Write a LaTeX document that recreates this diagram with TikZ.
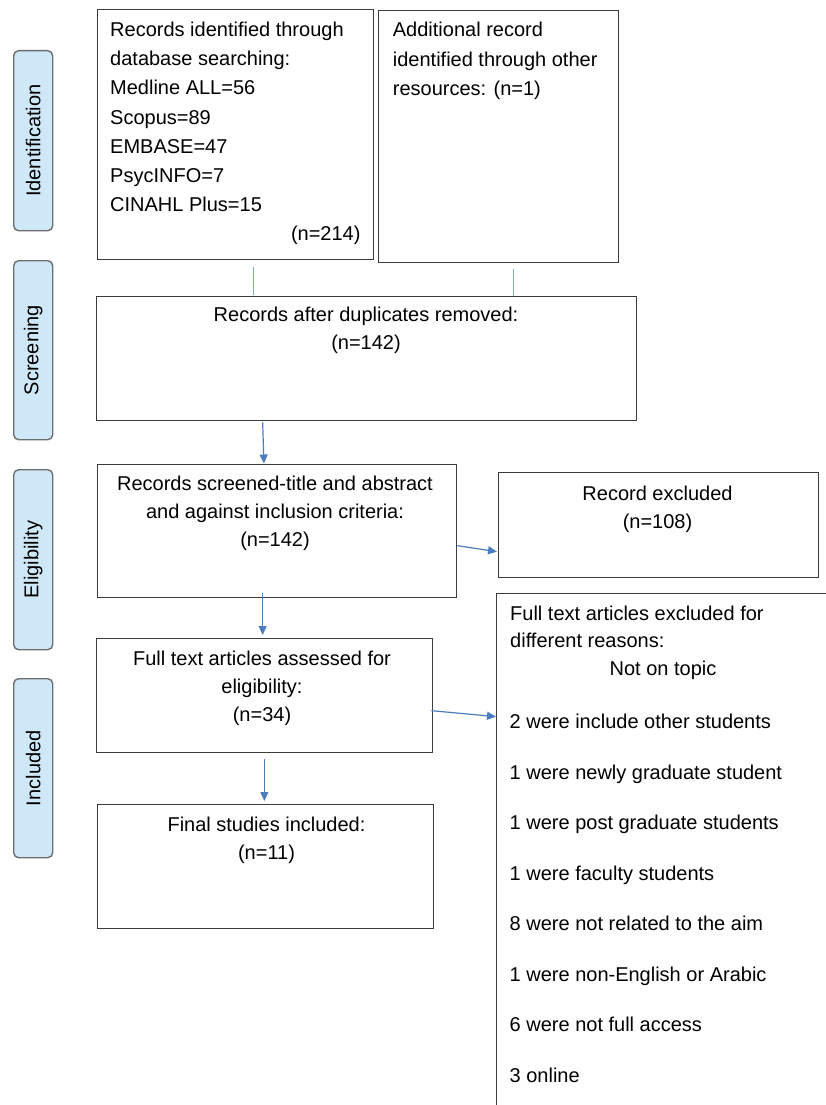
\documentclass[tikz,border=0pt]{standalone}
\usepackage{fontspec}
\setmainfont{Liberation Sans}
\usetikzlibrary{arrows.meta,calc}
\definecolor{boxline}{HTML}{3C3C3C}
\definecolor{sidefill}{HTML}{CFE8F8}
\definecolor{sideline}{HTML}{6E6E6E}
\definecolor{arrowblue}{HTML}{4A7EBF}
\definecolor{lineblue}{HTML}{7FA7DA}
\tikzset{
  box/.style={draw=boxline, line width=1.3pt, rectangle, inner sep=0pt, anchor=north west},
  sidebox/.style={draw=sideline, fill=sidefill, line width=1.4pt, rounded corners=5pt, inner sep=0pt, anchor=north west, minimum width=39pt},
  sidetxt/.style={rotate=90, inner sep=0pt, font=\fontsize{20}{24}\selectfont},
  txt/.style={inner sep=0pt, font=\fontsize{20}{29.3}\selectfont},
  ctxt/.style={inner sep=0pt, align=center, anchor=north, font=\fontsize{20}{28}\selectfont},
  arr/.style={draw=arrowblue, line width=1.2pt, -{Triangle[length=9pt,width=8pt]}},
  plain/.style={draw=lineblue, line width=1.2pt},
}
\begin{document}
\begin{tikzpicture}[x=1pt,y=-1pt]
\useasboundingbox (0,0) rectangle (826,1105);
\clip (0,0) rectangle (826,1105);
\fill[white] (0,0) rectangle (826,1105);

% side labels
\node[sidebox, minimum height=180pt] (sid) at (13,50) {};
\node[sidetxt] (sidt) at (sid.center) {Identification};
\node[sidebox, minimum height=179pt] (sscr) at (13,260) {};
\node[sidetxt] (sscrt) at (sscr.center) {Screening};
\node[sidebox, minimum height=180pt] (selg) at (13,469) {};
\node[sidetxt] (selgt) at (selg.center) {Eligibility};
\node[sidebox, minimum height=179pt] (sinc) at (13,678) {};
\node[sidetxt] (sinct) at (sinc.center) {Included};

% boxes
\node[box, minimum width=276pt, minimum height=250pt] (b1) at (97,9) {};
\node[box, minimum width=240pt, minimum height=252pt] (b2) at (378,10) {};
\node[box, minimum width=540pt, minimum height=124pt] (b3) at (96,296) {};
\node[box, minimum width=359pt, minimum height=133pt] (b4) at (97,464) {};
\node[box, minimum width=320pt, minimum height=105pt] (ex1) at (498,472) {};
\node[box, minimum width=336pt, minimum height=114pt] (b5) at (96,638) {};
\node[box, minimum width=336pt, minimum height=124pt] (b6) at (97,804) {};
\node[box, minimum width=360pt, minimum height=540pt] (ex2) at (496,593) {};

% texts
\node[txt, anchor=north west, align=left] (t1) at (110,21.5) {Records identified through\\database searching:\\Medline ALL=56\\Scopus=89\\EMBASE=47\\PsycINFO=7\\CINAHL Plus=15};
\node[txt, anchor=base east] (t1n) at (360.7,240.7) {(n=214)};
\node[txt, anchor=north west, align=left] (t2) at (392.7,22.2) {Additional record\\identified through other\\resources: (n=1)};
\node[ctxt] (t3) at (366,307.2) {Records after duplicates removed:\\(n=142)};
\node[ctxt] (t4) at (275,475.5) {Records screened-title and abstract\\and against inclusion criteria:\\(n=142)};
\node[ctxt] (tex1) at (657.5,485.5) {Record excluded\\(n=108)};
\node[ctxt] (t5) at (262,650.5) {Full text articles assessed for\\eligibility:\\(n=34)};
\node[ctxt] (t6) at (266.5,817.2) {Final studies included:\\(n=11)};
\node[txt, anchor=north west, align=left, font=\fontsize{20}{27}\selectfont] (tex2a) at (510,605.5) {Full text articles excluded for\\different reasons:};
\node[ctxt] (tex2b) at (663,660.5) {Not on topic};
\node[txt, anchor=north west, align=left, font=\fontsize{20}{50.5}\selectfont] (tex2c) at (509.5,713.8) {2 were include other students\\1 were newly graduate student\\1 were post graduate students\\1 were faculty students\\8 were not related to the aim\\1 were non-English or Arabic\\6 were not full access\\3 online};

% connectors
\draw[plain] ($(b1.south)+(18,7)$) -- ($(b3.north)+(-113,-1)$);
\draw[plain] ($(b2.south)+(15,6)$) -- ($(b3.north)+(147,0)$);
\draw[arr] ($(b3.south)+(-104,1)$) -- ($(b4.north)+(-13.2,-0.5)$);
\draw[arr] ($(b4.south)+(-14.5,-5)$) -- ($(b5.north)+(-2,-3)$);
\draw[arr] ($(b5.south)+(-0.3,6)$) -- ($(b6.north)+(-1.3,-3)$);
\draw[arr] ($(b4.east)+(0,14.5)$) -- ($(ex1.west)+(-1,26.5)$);
\draw[arr] ($(b5.east)+(-2,15)$) -- ($(ex2.west)+(0,-147)$);
\end{tikzpicture}
\end{document}
